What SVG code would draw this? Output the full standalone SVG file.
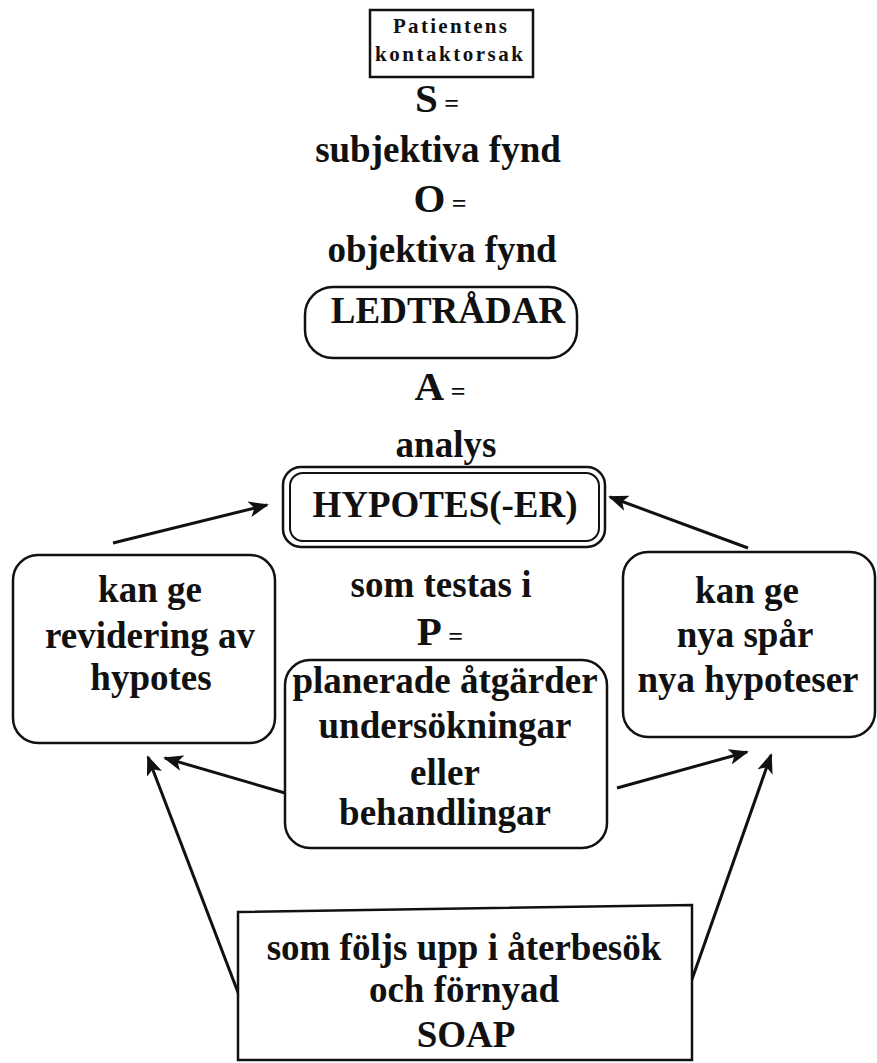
<svg xmlns="http://www.w3.org/2000/svg" width="877" height="1063" viewBox="0 0 877 1063">
<defs>
<style>
text{font-family:"Liberation Serif","Times New Roman",serif;font-weight:bold;fill:#111;text-anchor:middle;font-size:37px}
.big{font-size:41px}
.eq{font-size:26px}
.small{font-size:21px;font-weight:bold}
.box{fill:#fff;stroke:#111;stroke-width:2.5}
.thin{fill:none;stroke:#111;stroke-width:2}
.arr{fill:none;stroke:#111;stroke-width:3;marker-end:url(#ah)}
</style>
<marker id="ah" viewBox="0 0 20 16" refX="18" refY="8" markerWidth="20" markerHeight="16" markerUnits="userSpaceOnUse" orient="auto">
<path d="M0,0 L20,8 L0,16 L5,8 Z" fill="#111"/>
</marker>
</defs>
<rect width="877" height="1063" fill="#fff"/>

<g id="connectors">
<line class="arr" x1="113" y1="543" x2="267" y2="505"/>
<line class="arr" x1="748" y1="548" x2="610" y2="497"/>
<line class="arr" x1="239" y1="995" x2="148" y2="757"/>
<line class="arr" x1="285" y1="793" x2="165" y2="758"/>
<line class="arr" x1="617" y1="788" x2="747" y2="752"/>
<line class="arr" x1="690" y1="985" x2="771" y2="755"/>
</g>

<g id="patientens">
<rect class="box" x="370" y="10" width="163" height="67"/>
<text class="small" x="450" y="33" textLength="114" lengthAdjust="spacing">Patientens</text>
<text class="small" x="449" y="61" textLength="148" lengthAdjust="spacing">kontaktorsak</text>
</g>

<g id="s">
<text x="437" y="112"><tspan class="big">S</tspan><tspan class="eq"> =</tspan></text>
<text x="438" y="162">subjektiva fynd</text>
</g>

<g id="o">
<text x="440" y="212"><tspan class="big">O</tspan><tspan class="eq"> =</tspan></text>
<text x="442" y="262">objektiva fynd</text>
</g>

<g id="ledtradar">
<rect class="box" x="305" y="287" width="272" height="71" rx="28"/>
<text x="448" y="323">LEDTRÅDAR</text>
</g>

<g id="a">
<text x="440" y="400"><tspan class="big">A</tspan><tspan class="eq"> =</tspan></text>
<text x="446" y="457">analys</text>
</g>

<g id="hypotes">
<rect class="box" x="283" y="467" width="322" height="80" rx="18"/>
<rect class="thin" x="290" y="473" width="309" height="68" rx="13"/>
<text x="445" y="517">HYPOTES(-ER)</text>
</g>

<g id="p">
<text x="441" y="597">som testas i</text>
<text x="440" y="645"><tspan class="big">P</tspan><tspan class="eq"> =</tspan></text>
</g>

<g id="pbox">
<rect class="box" x="285" y="660" width="322" height="188" rx="25"/>
<text x="445" y="693">planerade åtgärder</text>
<text x="445" y="738">undersökningar</text>
<text x="445" y="785">eller</text>
<text x="445" y="825">behandlingar</text>
</g>

<g id="left">
<rect class="box" x="13" y="555" width="262" height="188" rx="25"/>
<text x="150" y="602">kan ge</text>
<text x="150" y="648">revidering av</text>
<text x="151" y="690">hypotes</text>
</g>

<g id="right">
<rect class="box" x="623" y="552" width="252" height="185" rx="25"/>
<text x="747" y="603">kan ge</text>
<text x="745" y="647">nya spår</text>
<text x="748" y="692">nya hypoteser</text>
</g>

<g id="bottom">
<path class="box" d="M238,912 L692,905 L692,1060 L238,1060 Z"/>
<text x="464" y="960">som följs upp i återbesök</text>
<text x="464" y="1002">och förnyad</text>
<text x="466" y="1047">SOAP</text>
</g>
</svg>
